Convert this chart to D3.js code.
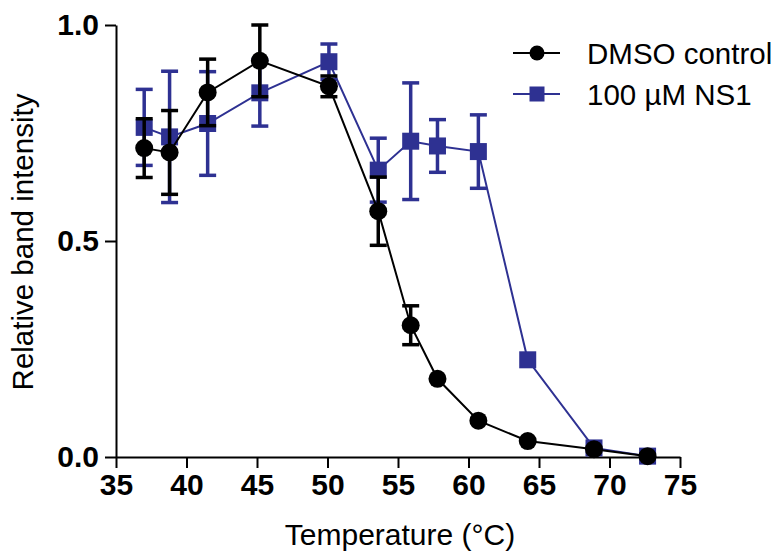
<!DOCTYPE html>
<html>
<head>
<meta charset="utf-8">
<script src="https://cdn.jsdelivr.net/npm/d3@7"></script>
<style>
  html, body { margin: 0; padding: 0; background: #fff; }
  svg { display: block; font-family: "Liberation Sans", Arial, sans-serif; }
</style>
</head>
<body>
<svg id="chart" width="779" height="554"></svg>
<script>
// ---- data ----
const temperatures = [37.0, 38.8, 41.5, 45.2, 50.1, 53.6, 55.9, 57.8, 60.7, 64.2, 68.9, 72.7];
const dmsoMean = [0.715, 0.705, 0.844, 0.917, 0.858, 0.569, 0.305, 0.181, 0.084, 0.037, 0.018, 0.002];
const dmsoErr  = [0.068, 0.097, 0.077, 0.083, 0.024, 0.079, 0.045, 0, 0, 0, 0, 0];
const ns1Mean  = [0.763, 0.741, 0.772, 0.843, 0.915, 0.664, 0.731, 0.720, 0.707, 0.225, 0.021, 0.002];
const ns1Err   = [0.088, 0.152, 0.120, 0.077, 0.041, 0.074, 0.135, 0.061, 0.085, 0, 0, 0];
const xTicks = [35, 40, 45, 50, 55, 60, 65, 70, 75];
const yTicks = [0.0, 0.5, 1.0];
const seriesNames = ["DMSO control", "100 \u00b5M NS1"];
const seriesColors = ["#000000", "#2e3192"];

// ---- layout ----
const svg = d3.select("#chart");
const x = d3.scaleLinear().domain([35, 75]).range([116, 680]);
const y = d3.scaleLinear().domain([0, 1]).range([457, 25]);

const series = [
  { name: seriesNames[1], color: seriesColors[1], mean: ns1Mean, err: ns1Err, shape: "square" },
  { name: seriesNames[0], color: seriesColors[0], mean: dmsoMean, err: dmsoErr, shape: "circle" }
];

// axes
const xMinor = d3.range(35, 76, 1).filter(v => v % 5 !== 0);
const yMinor = [0.25, 0.75];

const gx = svg.append("g").attr("transform", `translate(0,${y(0)})`);
gx.call(d3.axisBottom(x).tickValues(xMinor).tickSize(6).tickFormat(""));
gx.call(d3.axisBottom(x).tickValues(xTicks).tickSize(11).tickSizeOuter(0).tickPadding(6).tickFormat(d3.format("d")));
gx.selectAll("path.domain").attr("stroke-width", 2);
gx.selectAll(".tick line").attr("stroke-width", 2);
gx.selectAll(".tick text").attr("font-size", 30).attr("font-weight", "bold").attr("font-family", "'Liberation Sans', Arial, sans-serif").attr("fill", "#000");

const gy = svg.append("g").attr("transform", `translate(${x(35)},0)`);
gy.call(d3.axisLeft(y).tickValues(yMinor).tickSize(8).tickFormat(""));
gy.call(d3.axisLeft(y).tickValues(yTicks).tickSize(11).tickSizeOuter(0).tickPadding(6).tickFormat(d3.format(".1f")));
gy.selectAll("path.domain").attr("stroke-width", 2);
gy.selectAll(".tick line").attr("stroke-width", 2);
gy.selectAll(".tick text").attr("font-size", 30).attr("font-weight", "bold").attr("font-family", "'Liberation Sans', Arial, sans-serif").attr("fill", "#000");

// axis titles
svg.append("text")
  .attr("x", 400).attr("y", 545)
  .attr("text-anchor", "middle")
  .attr("font-size", 30)
  .text("Temperature (\u00b0C)");

svg.append("text")
  .attr("transform", "translate(33,242) rotate(-90)")
  .attr("text-anchor", "middle")
  .attr("font-size", 29.5)
  .text("Relative band intensity");

// series
const capW = 17;
series.forEach(s => {
  const g = svg.append("g");
  const pts = temperatures.map((t, i) => ({ t, m: s.mean[i], e: s.err[i] }));
  g.append("path")
    .datum(pts)
    .attr("fill", "none")
    .attr("stroke", s.color)
    .attr("stroke-width", 2)
    .attr("d", d3.line().x(d => x(d.t)).y(d => y(d.m)));

  const eb = g.selectAll("g.eb").data(pts.filter(d => d.e > 0)).join("g");
  eb.append("line")
    .attr("x1", d => x(d.t)).attr("x2", d => x(d.t))
    .attr("y1", d => y(d.m + d.e)).attr("y2", d => y(d.m - d.e))
    .attr("stroke", s.color).attr("stroke-width", 3.5);
  [1, -1].forEach(sign => {
    eb.append("line")
      .attr("x1", d => x(d.t) - capW / 2).attr("x2", d => x(d.t) + capW / 2)
      .attr("y1", d => y(d.m + sign * d.e)).attr("y2", d => y(d.m + sign * d.e))
      .attr("stroke", s.color).attr("stroke-width", 3.5);
  });

  if (s.shape === "circle") {
    g.selectAll("circle.pt").data(pts).join("circle")
      .attr("cx", d => x(d.t)).attr("cy", d => y(d.m)).attr("r", 9)
      .attr("fill", s.color);
  } else {
    const sz = 17;
    g.selectAll("rect.pt").data(pts).join("rect")
      .attr("x", d => x(d.t) - sz / 2).attr("y", d => y(d.m) - sz / 2)
      .attr("width", sz).attr("height", sz)
      .attr("fill", s.color);
  }
});

// legend
const legend = svg.append("g");
const legendItems = [
  { name: seriesNames[0], color: seriesColors[0], shape: "circle", cy: 53 },
  { name: seriesNames[1], color: seriesColors[1], shape: "square", cy: 94 }
];
legendItems.forEach(it => {
  legend.append("line").attr("x1", 513).attr("x2", 560).attr("y1", it.cy).attr("y2", it.cy)
    .attr("stroke", it.color).attr("stroke-width", 2);
  if (it.shape === "circle") {
    legend.append("circle").attr("cx", 537).attr("cy", it.cy).attr("r", 7.5).attr("fill", it.color);
  } else {
    legend.append("rect").attr("x", 537 - 7.5).attr("y", it.cy - 7.5).attr("width", 15).attr("height", 15).attr("fill", it.color);
  }
  legend.append("text").attr("x", 587).attr("y", it.cy + 10.5).attr("font-size", 29.5).text(it.name);
});
</script>
</body>
</html>
